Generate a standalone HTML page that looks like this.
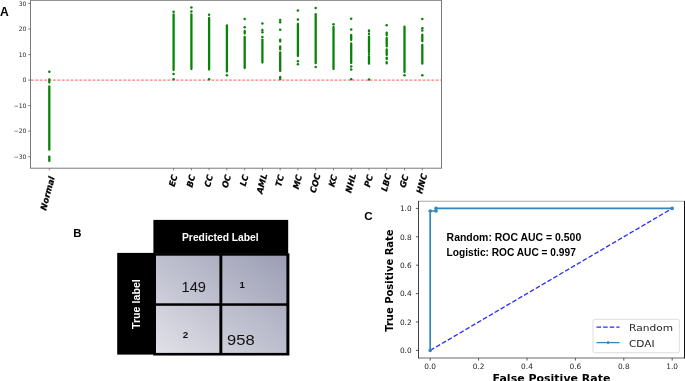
<!DOCTYPE html>
<html lang="en">
<head>
<meta charset="utf-8">
<title>Figure: CDAI scores, confusion matrix and ROC curve</title>
<style>
html,body{margin:0;padding:0;background:#fff;}
body{width:685px;height:381px;overflow:hidden;position:relative;}
svg{position:absolute;left:0;top:0;display:block;}
.dj{font-family:"DejaVu Sans","Liberation Sans",sans-serif;}
.lb{font-family:"Liberation Sans","DejaVu Sans",sans-serif;}
</style>
</head>
<body>
<svg width="685" height="381" viewBox="0 0 685 381">
<defs>
<linearGradient id="cm" x1="1" y1="0" x2="0" y2="1">
<stop offset="0" stop-color="#9b9db4"/>
<stop offset="1" stop-color="#e1e1e8"/>
</linearGradient>
</defs>
<rect x="0" y="0" width="685" height="381" fill="#ffffff"/>
<!-- Panel A -->
<g id="panelA">
<text class="lb" x="0" y="16.4" font-size="12.1" font-weight="700" fill="#000">A</text>
<rect x="30.5" y="0.3" width="411" height="167.9" fill="none" stroke="#7a7a7a" stroke-width="1"/>
<line x1="28.2" y1="3.5" x2="30.5" y2="3.5" stroke="#555" stroke-width="0.7"/>
<text class="dj" x="26.5" y="5.7" font-size="6.1" text-anchor="end" fill="#2a2a2a">30</text>
<line x1="28.2" y1="29.0" x2="30.5" y2="29.0" stroke="#555" stroke-width="0.7"/>
<text class="dj" x="26.5" y="31.2" font-size="6.1" text-anchor="end" fill="#2a2a2a">20</text>
<line x1="28.2" y1="54.6" x2="30.5" y2="54.6" stroke="#555" stroke-width="0.7"/>
<text class="dj" x="26.5" y="56.8" font-size="6.1" text-anchor="end" fill="#2a2a2a">10</text>
<line x1="28.2" y1="80.1" x2="30.5" y2="80.1" stroke="#555" stroke-width="0.7"/>
<text class="dj" x="26.5" y="82.3" font-size="6.1" text-anchor="end" fill="#2a2a2a">0</text>
<line x1="28.2" y1="105.6" x2="30.5" y2="105.6" stroke="#555" stroke-width="0.7"/>
<text class="dj" x="26.5" y="107.8" font-size="6.1" text-anchor="end" fill="#2a2a2a">−10</text>
<line x1="28.2" y1="131.2" x2="30.5" y2="131.2" stroke="#555" stroke-width="0.7"/>
<text class="dj" x="26.5" y="133.4" font-size="6.1" text-anchor="end" fill="#2a2a2a">−20</text>
<line x1="28.2" y1="156.7" x2="30.5" y2="156.7" stroke="#555" stroke-width="0.7"/>
<text class="dj" x="26.5" y="158.9" font-size="6.1" text-anchor="end" fill="#2a2a2a">−30</text>
<line x1="31" y1="80.1" x2="441" y2="80.1" stroke="#ff7c7c" stroke-width="1.35" stroke-dasharray="2.8 1.6"/>
<g stroke="#078307" fill="#078307"><line x1="49.3" y1="79.3" x2="49.3" y2="82.5" stroke-width="2.3" stroke-linecap="round"/><line x1="49.3" y1="86.4" x2="49.3" y2="149.7" stroke-width="2.3" stroke-linecap="round"/><line x1="49.3" y1="156.6" x2="49.3" y2="160.9" stroke-width="2.3" stroke-linecap="round"/><circle cx="49.3" cy="71.8" r="1.25" stroke="none"/></g>
<line x1="49.3" y1="168.2" x2="49.3" y2="170.4" stroke="#555" stroke-width="0.7"/>
<g stroke="#078307" fill="#078307"><line x1="173.6" y1="14.5" x2="173.6" y2="70.0" stroke-width="2.3" stroke-linecap="round"/><circle cx="173.6" cy="11.8" r="1.25" stroke="none"/><circle cx="173.6" cy="74.1" r="1.25" stroke="none"/><circle cx="173.6" cy="79.2" r="1.25" stroke="none"/></g>
<line x1="173.6" y1="168.2" x2="173.6" y2="170.4" stroke="#555" stroke-width="0.7"/>
<g stroke="#078307" fill="#078307"><line x1="191.4" y1="14.5" x2="191.4" y2="69.0" stroke-width="2.3" stroke-linecap="round"/><circle cx="191.4" cy="7.6" r="1.25" stroke="none"/><circle cx="191.4" cy="11.5" r="1.25" stroke="none"/></g>
<line x1="191.4" y1="168.2" x2="191.4" y2="170.4" stroke="#555" stroke-width="0.7"/>
<g stroke="#078307" fill="#078307"><line x1="209.1" y1="18.0" x2="209.1" y2="69.5" stroke-width="2.3" stroke-linecap="round"/><circle cx="209.1" cy="14.8" r="1.25" stroke="none"/><circle cx="209.1" cy="79.3" r="1.25" stroke="none"/></g>
<line x1="209.1" y1="168.2" x2="209.1" y2="170.4" stroke="#555" stroke-width="0.7"/>
<g stroke="#078307" fill="#078307"><line x1="226.9" y1="25.5" x2="226.9" y2="71.5" stroke-width="2.3" stroke-linecap="round"/><circle cx="226.9" cy="75.3" r="1.25" stroke="none"/></g>
<line x1="226.9" y1="168.2" x2="226.9" y2="170.4" stroke="#555" stroke-width="0.7"/>
<g stroke="#078307" fill="#078307"><line x1="244.7" y1="31.0" x2="244.7" y2="33.5" stroke-width="2.3" stroke-linecap="round"/><line x1="244.7" y1="37.0" x2="244.7" y2="68.0" stroke-width="2.3" stroke-linecap="round"/><circle cx="244.7" cy="18.9" r="1.25" stroke="none"/><circle cx="244.7" cy="27.3" r="1.25" stroke="none"/></g>
<line x1="244.7" y1="168.2" x2="244.7" y2="170.4" stroke="#555" stroke-width="0.7"/>
<g stroke="#078307" fill="#078307"><line x1="262.4" y1="39.6" x2="262.4" y2="62.5" stroke-width="2.3" stroke-linecap="round"/><circle cx="262.4" cy="23.5" r="1.25" stroke="none"/><circle cx="262.4" cy="30" r="1.25" stroke="none"/><circle cx="262.4" cy="32.2" r="1.25" stroke="none"/><circle cx="262.4" cy="37" r="1.25" stroke="none"/></g>
<line x1="262.4" y1="168.2" x2="262.4" y2="170.4" stroke="#555" stroke-width="0.7"/>
<g stroke="#078307" fill="#078307"><line x1="280.2" y1="39.6" x2="280.2" y2="41.5" stroke-width="2.3" stroke-linecap="round"/><line x1="280.2" y1="46.5" x2="280.2" y2="49.4" stroke-width="2.3" stroke-linecap="round"/><line x1="280.2" y1="52.4" x2="280.2" y2="71.0" stroke-width="2.3" stroke-linecap="round"/><line x1="280.2" y1="76.9" x2="280.2" y2="79.3" stroke-width="2.3" stroke-linecap="round"/><circle cx="280.2" cy="20" r="1.25" stroke="none"/><circle cx="280.2" cy="22.3" r="1.25" stroke="none"/><circle cx="280.2" cy="29.8" r="1.25" stroke="none"/></g>
<line x1="280.2" y1="168.2" x2="280.2" y2="170.4" stroke="#555" stroke-width="0.7"/>
<g stroke="#078307" fill="#078307"><line x1="297.9" y1="24.0" x2="297.9" y2="56.0" stroke-width="2.3" stroke-linecap="round"/><circle cx="297.9" cy="10.6" r="1.25" stroke="none"/><circle cx="297.9" cy="19.6" r="1.25" stroke="none"/><circle cx="297.9" cy="61.3" r="1.25" stroke="none"/><circle cx="297.9" cy="64.3" r="1.25" stroke="none"/></g>
<line x1="297.9" y1="168.2" x2="297.9" y2="170.4" stroke="#555" stroke-width="0.7"/>
<g stroke="#078307" fill="#078307"><line x1="315.7" y1="14.2" x2="315.7" y2="63.2" stroke-width="2.3" stroke-linecap="round"/><circle cx="315.7" cy="8.1" r="1.25" stroke="none"/><circle cx="315.7" cy="67.1" r="1.25" stroke="none"/></g>
<line x1="315.7" y1="168.2" x2="315.7" y2="170.4" stroke="#555" stroke-width="0.7"/>
<g stroke="#078307" fill="#078307"><line x1="333.5" y1="27.0" x2="333.5" y2="69.0" stroke-width="2.3" stroke-linecap="round"/><circle cx="333.5" cy="24.3" r="1.25" stroke="none"/></g>
<line x1="333.5" y1="168.2" x2="333.5" y2="170.4" stroke="#555" stroke-width="0.7"/>
<g stroke="#078307" fill="#078307"><line x1="351.2" y1="35.0" x2="351.2" y2="40.0" stroke-width="2.3" stroke-linecap="round"/><line x1="351.2" y1="43.5" x2="351.2" y2="63.0" stroke-width="2.3" stroke-linecap="round"/><circle cx="351.2" cy="18.8" r="1.25" stroke="none"/><circle cx="351.2" cy="29.4" r="1.25" stroke="none"/><circle cx="351.2" cy="66.5" r="1.25" stroke="none"/><circle cx="351.2" cy="69.5" r="1.25" stroke="none"/><circle cx="351.2" cy="79.2" r="1.25" stroke="none"/></g>
<line x1="351.2" y1="168.2" x2="351.2" y2="170.4" stroke="#555" stroke-width="0.7"/>
<g stroke="#078307" fill="#078307"><line x1="369.0" y1="30.4" x2="369.0" y2="31.6" stroke-width="2.3" stroke-linecap="round"/><line x1="369.0" y1="34.0" x2="369.0" y2="34.2" stroke-width="2.3" stroke-linecap="round"/><line x1="369.0" y1="36.6" x2="369.0" y2="52.2" stroke-width="2.3" stroke-linecap="round"/><line x1="369.0" y1="54.5" x2="369.0" y2="54.2" stroke-width="2.3" stroke-linecap="round"/><line x1="369.0" y1="56.5" x2="369.0" y2="63.7" stroke-width="2.3" stroke-linecap="round"/><circle cx="369.0" cy="79.5" r="1.25" stroke="none"/></g>
<line x1="369.0" y1="168.2" x2="369.0" y2="170.4" stroke="#555" stroke-width="0.7"/>
<g stroke="#078307" fill="#078307"><line x1="386.7" y1="32.6" x2="386.7" y2="35.3" stroke-width="2.3" stroke-linecap="round"/><line x1="386.7" y1="38.0" x2="386.7" y2="46.4" stroke-width="2.3" stroke-linecap="round"/><line x1="386.7" y1="49.4" x2="386.7" y2="54.9" stroke-width="2.3" stroke-linecap="round"/><line x1="386.7" y1="57.6" x2="386.7" y2="59.2" stroke-width="2.3" stroke-linecap="round"/><line x1="386.7" y1="62.2" x2="386.7" y2="63.400000000000006" stroke-width="2.3" stroke-linecap="round"/><circle cx="386.7" cy="25.2" r="1.25" stroke="none"/></g>
<line x1="386.7" y1="168.2" x2="386.7" y2="170.4" stroke="#555" stroke-width="0.7"/>
<g stroke="#078307" fill="#078307"><line x1="404.5" y1="26.7" x2="404.5" y2="72.0" stroke-width="2.3" stroke-linecap="round"/><circle cx="404.5" cy="75.3" r="1.25" stroke="none"/></g>
<line x1="404.5" y1="168.2" x2="404.5" y2="170.4" stroke="#555" stroke-width="0.7"/>
<g stroke="#078307" fill="#078307"><line x1="422.3" y1="34.7" x2="422.3" y2="41.3" stroke-width="2.3" stroke-linecap="round"/><line x1="422.3" y1="44.8" x2="422.3" y2="63.7" stroke-width="2.3" stroke-linecap="round"/><circle cx="422.3" cy="19.1" r="1.25" stroke="none"/><circle cx="422.3" cy="28.2" r="1.25" stroke="none"/><circle cx="422.3" cy="30.6" r="1.25" stroke="none"/><circle cx="422.3" cy="75.2" r="1.25" stroke="none"/></g>
<line x1="422.3" y1="168.2" x2="422.3" y2="170.4" stroke="#555" stroke-width="0.7"/>
<text class="dj" transform="translate(54.88,177.40) rotate(-75)" font-size="8.5" font-weight="700" font-style="italic" text-anchor="end" fill="#000" stroke="#000" stroke-width="0.2">Normal</text>
<text class="dj" transform="translate(177.57,175.60) rotate(-75)" font-size="8.5" font-weight="700" font-style="italic" text-anchor="end" fill="#000" stroke="#000" stroke-width="0.2">EC</text>
<text class="dj" transform="translate(195.42,175.60) rotate(-75)" font-size="8.5" font-weight="700" font-style="italic" text-anchor="end" fill="#000" stroke="#000" stroke-width="0.2">BC</text>
<text class="dj" transform="translate(213.15,175.60) rotate(-75)" font-size="8.5" font-weight="700" font-style="italic" text-anchor="end" fill="#000" stroke="#000" stroke-width="0.2">CC</text>
<text class="dj" transform="translate(231.04,175.60) rotate(-75)" font-size="8.5" font-weight="700" font-style="italic" text-anchor="end" fill="#000" stroke="#000" stroke-width="0.2">OC</text>
<text class="dj" transform="translate(248.56,175.60) rotate(-75)" font-size="8.5" font-weight="700" font-style="italic" text-anchor="end" fill="#000" stroke="#000" stroke-width="0.2">LC</text>
<text class="dj" transform="translate(267.46,174.50) rotate(-75)" font-size="8.5" font-weight="700" font-style="italic" text-anchor="end" fill="#000" stroke="#000" stroke-width="0.2">AML</text>
<text class="dj" transform="translate(284.13,175.60) rotate(-75)" font-size="8.5" font-weight="700" font-style="italic" text-anchor="end" fill="#000" stroke="#000" stroke-width="0.2">TC</text>
<text class="dj" transform="translate(302.24,175.60) rotate(-75)" font-size="8.5" font-weight="700" font-style="italic" text-anchor="end" fill="#000" stroke="#000" stroke-width="0.2">MC</text>
<text class="dj" transform="translate(320.64,174.50) rotate(-75)" font-size="8.5" font-weight="700" font-style="italic" text-anchor="end" fill="#000" stroke="#000" stroke-width="0.2">COC</text>
<text class="dj" transform="translate(337.44,175.60) rotate(-75)" font-size="8.5" font-weight="700" font-style="italic" text-anchor="end" fill="#000" stroke="#000" stroke-width="0.2">KC</text>
<text class="dj" transform="translate(356.16,174.50) rotate(-75)" font-size="8.5" font-weight="700" font-style="italic" text-anchor="end" fill="#000" stroke="#000" stroke-width="0.2">NHL</text>
<text class="dj" transform="translate(372.99,175.60) rotate(-75)" font-size="8.5" font-weight="700" font-style="italic" text-anchor="end" fill="#000" stroke="#000" stroke-width="0.2">PC</text>
<text class="dj" transform="translate(391.48,174.50) rotate(-75)" font-size="8.5" font-weight="700" font-style="italic" text-anchor="end" fill="#000" stroke="#000" stroke-width="0.2">LBC</text>
<text class="dj" transform="translate(408.60,175.60) rotate(-75)" font-size="8.5" font-weight="700" font-style="italic" text-anchor="end" fill="#000" stroke="#000" stroke-width="0.2">GC</text>
<text class="dj" transform="translate(427.30,174.50) rotate(-75)" font-size="8.5" font-weight="700" font-style="italic" text-anchor="end" fill="#000" stroke="#000" stroke-width="0.2">HNC</text>
</g>
<!-- Panel B -->
<g id="panelB">
<text class="lb" x="73.3" y="237" font-size="11.4" font-weight="700" fill="#000">B</text>
<rect x="153.4" y="219.9" width="134.8" height="34" fill="#000"/>
<rect x="117.2" y="252.9" width="37" height="101.7" fill="#000"/>
<rect x="153.2" y="253.3" width="136.2" height="102.2" fill="#000"/>
<rect x="156" y="255.7" width="130.4" height="97.2" fill="url(#cm)"/>
<rect x="219.4" y="255" width="2.9" height="99" fill="#000"/>
<rect x="155" y="303.3" width="132" height="2.5" fill="#000"/>
<text class="lb" x="182" y="241" font-size="11.2" font-weight="700" fill="#fff" textLength="76.7" lengthAdjust="spacingAndGlyphs">Predicted Label</text>
<text class="lb" transform="translate(139.7,329) rotate(-90)" font-size="11.6" font-weight="700" fill="#fff" textLength="49.8" lengthAdjust="spacingAndGlyphs">True label</text>
<text class="lb" x="181.6" y="291.7" font-size="14.1" fill="#111" textLength="24.4" lengthAdjust="spacingAndGlyphs">149</text>
<text class="lb" x="239.4" y="287.7" font-size="9.6" font-weight="700" fill="#111">1</text>
<text class="lb" x="182.8" y="337.5" font-size="9.8" font-weight="700" fill="#111">2</text>
<text class="lb" x="227" y="345" font-size="15" fill="#111" textLength="27.6" lengthAdjust="spacingAndGlyphs">958</text>
</g>
<!-- Panel C -->
<g id="panelC">
<text class="lb" x="364.2" y="220.3" font-size="11.6" font-weight="700" fill="#000">C</text>
<line x1="418.5" y1="201.3" x2="684.2" y2="201.3" stroke="#a8a8a8" stroke-width="1.1"/>
<line x1="418.5" y1="358.0" x2="684.6" y2="358.0" stroke="#6a6a6a" stroke-width="1"/>
<line x1="418.5" y1="200.9" x2="418.5" y2="358.4" stroke="#2a2a2a" stroke-width="0.9"/>
<line x1="684.5" y1="200.9" x2="684.5" y2="358.4" stroke="#111" stroke-width="1"/>
<line x1="415.9" y1="350.4" x2="418.5" y2="350.4" stroke="#333" stroke-width="0.8"/>
<text class="dj" x="411.7" y="353.1" font-size="7.4" text-anchor="end" fill="#262626">0.0</text>
<line x1="430.2" y1="358.0" x2="430.2" y2="360.6" stroke="#333" stroke-width="0.8"/>
<text class="dj" x="430.2" y="368.9" font-size="7.4" text-anchor="middle" fill="#262626">0.0</text>
<line x1="415.9" y1="322.0" x2="418.5" y2="322.0" stroke="#333" stroke-width="0.8"/>
<text class="dj" x="411.7" y="324.7" font-size="7.4" text-anchor="end" fill="#262626">0.2</text>
<line x1="478.6" y1="358.0" x2="478.6" y2="360.6" stroke="#333" stroke-width="0.8"/>
<text class="dj" x="478.6" y="368.9" font-size="7.4" text-anchor="middle" fill="#262626">0.2</text>
<line x1="415.9" y1="293.6" x2="418.5" y2="293.6" stroke="#333" stroke-width="0.8"/>
<text class="dj" x="411.7" y="296.3" font-size="7.4" text-anchor="end" fill="#262626">0.4</text>
<line x1="527.0" y1="358.0" x2="527.0" y2="360.6" stroke="#333" stroke-width="0.8"/>
<text class="dj" x="527.0" y="368.9" font-size="7.4" text-anchor="middle" fill="#262626">0.4</text>
<line x1="415.9" y1="265.2" x2="418.5" y2="265.2" stroke="#333" stroke-width="0.8"/>
<text class="dj" x="411.7" y="267.9" font-size="7.4" text-anchor="end" fill="#262626">0.6</text>
<line x1="575.4" y1="358.0" x2="575.4" y2="360.6" stroke="#333" stroke-width="0.8"/>
<text class="dj" x="575.4" y="368.9" font-size="7.4" text-anchor="middle" fill="#262626">0.6</text>
<line x1="415.9" y1="236.8" x2="418.5" y2="236.8" stroke="#333" stroke-width="0.8"/>
<text class="dj" x="411.7" y="239.5" font-size="7.4" text-anchor="end" fill="#262626">0.8</text>
<line x1="623.8" y1="358.0" x2="623.8" y2="360.6" stroke="#333" stroke-width="0.8"/>
<text class="dj" x="623.8" y="368.9" font-size="7.4" text-anchor="middle" fill="#262626">0.8</text>
<line x1="415.9" y1="208.4" x2="418.5" y2="208.4" stroke="#333" stroke-width="0.8"/>
<text class="dj" x="411.7" y="211.1" font-size="7.4" text-anchor="end" fill="#262626">1.0</text>
<line x1="672.2" y1="358.0" x2="672.2" y2="360.6" stroke="#333" stroke-width="0.8"/>
<text class="dj" x="672.2" y="368.9" font-size="7.4" text-anchor="middle" fill="#262626">1.0</text>
<line x1="430.2" y1="350.4" x2="672.2" y2="208.4" stroke="#2a2aff" stroke-width="1.3" stroke-dasharray="4.7 2.1"/>
<polyline fill="none" stroke="#3585bf" stroke-width="1.7" stroke-linejoin="round" points="430.2,350.4 430.2,211.0 436.0,211.0 436.0,208.4 672.2,208.4"/>
<circle cx="430.2" cy="350.4" r="1.8" fill="#3585bf"/>
<circle cx="430.2" cy="211.0" r="1.8" fill="#3585bf"/>
<circle cx="436.0" cy="211.0" r="1.8" fill="#3585bf"/>
<circle cx="436.0" cy="208.4" r="1.8" fill="#3585bf"/>
<circle cx="672.2" cy="208.4" r="1.8" fill="#3585bf"/>
<text class="dj" x="492.6" y="382.4" font-size="10.9" font-weight="700" fill="#000" textLength="117.8" lengthAdjust="spacingAndGlyphs">False Positive Rate</text>
<text class="dj" transform="translate(393.4,331.8) rotate(-90)" font-size="9.9" font-weight="700" fill="#000" textLength="102.4" lengthAdjust="spacingAndGlyphs">True Positive Rate</text>
<text class="lb" x="446.6" y="241.4" font-size="11.1" font-weight="700" fill="#000" textLength="134.6" lengthAdjust="spacingAndGlyphs">Random: ROC AUC = 0.500</text>
<text class="lb" x="446.6" y="255.8" font-size="11.1" font-weight="700" fill="#000" textLength="129.2" lengthAdjust="spacingAndGlyphs">Logistic: ROC AUC = 0.997</text>
<rect x="593" y="319.4" width="86.4" height="33.3" rx="1.6" ry="1.6" fill="#fff" fill-opacity="0.8" stroke="#d6d6d6" stroke-width="0.8"/>
<line x1="596.5" y1="327.1" x2="619.6" y2="327.1" stroke="#2a2aff" stroke-width="1.3" stroke-dasharray="4.6 2"/>
<line x1="596.5" y1="342.6" x2="619.6" y2="342.6" stroke="#3585bf" stroke-width="1.3"/>
<circle cx="608.1" cy="342.6" r="1.4" fill="#3585bf"/>
<text class="dj" x="629" y="330.9" font-size="9.3" fill="#222" textLength="44" lengthAdjust="spacingAndGlyphs">Random</text>
<text class="dj" x="629" y="346.6" font-size="9.3" fill="#222" textLength="25.6" lengthAdjust="spacingAndGlyphs">CDAI</text>
</g>
</svg>
</body>
</html>
